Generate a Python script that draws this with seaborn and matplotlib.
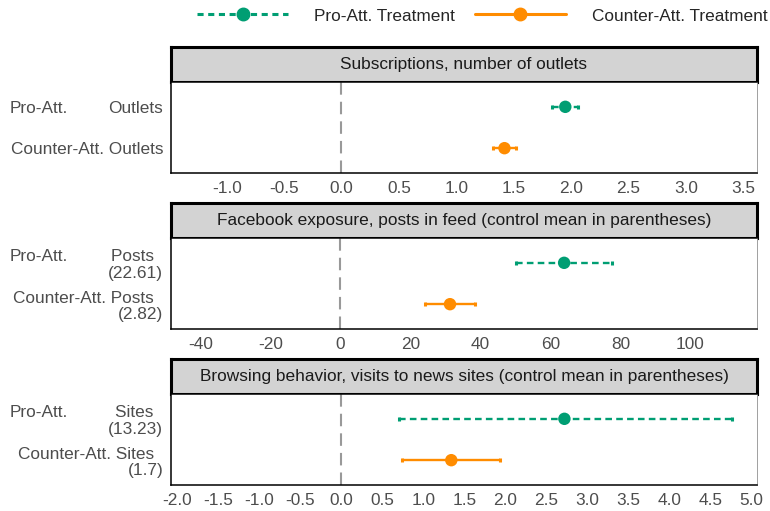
import numpy as np
import pandas as pd
import matplotlib.pyplot as plt
import seaborn as sns
from matplotlib.lines import Line2D
from matplotlib.transforms import blended_transform_factory

# values
panels = [
    "Subscriptions, number of outlets",
    "Facebook exposure, posts in feed (control mean in parentheses)",
    "Browsing behavior, visits to news sites (control mean in parentheses)",
]
treatments = ["Pro-Att. Treatment", "Counter-Att. Treatment"]
pro_est = [1.95, 63.9, 2.72]
pro_lo = [1.83, 50.1, 0.70]
pro_hi = [2.06, 77.6, 4.76]
counter_est = [1.42, 31.3, 1.34]
counter_lo = [1.32, 24.3, 0.74]
counter_hi = [1.52, 38.3, 1.94]
pro_labels = ["Outlets", "Posts  \n(22.61)", "Sites  \n(13.23)"]
counter_labels = ["Counter-Att. Outlets", "Counter-Att. Posts  \n(2.82)", "Counter-Att. Sites  \n(1.7)"]
x_limits = [(-1.485, 3.62), (-48.4, 119.0), (-2.08, 5.07)]
x_ticks = [
    [-1.0, -0.5, 0.0, 0.5, 1.0, 1.5, 2.0, 2.5, 3.0, 3.5],
    [-40, -20, 0, 20, 40, 60, 80, 100],
    [-2.0, -1.5, -1.0, -0.5, 0.0, 0.5, 1.0, 1.5, 2.0, 2.5, 3.0, 3.5, 4.0, 4.5, 5.0],
]
tick_fmt = ["{:.1f}", "{:.0f}", "{:.1f}"]

colors = {"Pro-Att. Treatment": "#009E73", "Counter-Att. Treatment": "#FF8C00"}
dash_pro = (0, (2.8, 1.8))
FS = 12.4
LS = 1.1

rows = []
for i, p in enumerate(panels):
    rows.append(dict(panel=p, treat=treatments[0], ypos=1, est=pro_est[i], lo=pro_lo[i], hi=pro_hi[i]))
    rows.append(dict(panel=p, treat=treatments[1], ypos=2, est=counter_est[i], lo=counter_lo[i], hi=counter_hi[i]))
df = pd.DataFrame(rows)

sns.set_style("white")
plt.rcParams["font.family"] = ["Liberation Sans", "DejaVu Sans"]
plt.rcParams["axes.unicode_minus"] = False

W, H = 770, 511
fig = plt.figure(figsize=(W / 100, H / 100), dpi=100)

x0, x1 = 171, 757
for k, p in enumerate(panels):
    top = 47 + 156 * k
    strip_bot = 82 + 156 * k
    ax_bot = 173 + 156 * k

    # strip
    sax = fig.add_axes([x0 / W, 1 - strip_bot / H, (x1 - x0) / W, (strip_bot - top) / H])
    sax.set_facecolor("#D3D3D3")
    sax.set_xticks([])
    sax.set_yticks([])
    for s in sax.spines.values():
        s.set_visible(True)
        s.set_color("black")
        s.set_linewidth(2.2)
    sax.text(0.5, 0.5, p, ha="center", va="center", fontsize=FS, color="#1A1A1A",
             transform=sax.transAxes)

    # panel
    ax = fig.add_axes([x0 / W, 1 - ax_bot / H, (x1 - x0) / W, (ax_bot - strip_bot) / H])
    sub = df[df["panel"] == p]
    ax.axvline(0, color="#999999", lw=1.5, dashes=(6, 3.4), zorder=1)
    for _, r in sub.iterrows():
        eb = ax.errorbar(r["est"], r["ypos"], xerr=[[r["est"] - r["lo"]], [r["hi"] - r["est"]]],
                         fmt="none", ecolor=colors[r["treat"]], elinewidth=1.7,
                         capsize=1.3, capthick=2.2, zorder=2)
        if r["treat"] == treatments[0]:
            eb[2][0].set_linestyle(dash_pro)
    sns.scatterplot(data=sub, x="est", y="ypos", hue="treat", palette=colors,
                    s=80, linewidth=0, legend=False, ax=ax, zorder=3)

    ax.set_xlim(*x_limits[k])
    ax.set_ylim(2.6, 0.4)
    ax.set_xticks(x_ticks[k])
    ax.set_xticklabels([tick_fmt[k].format(v) for v in x_ticks[k]])
    ax.set_yticks([1, 2])
    ax.set_yticklabels([pro_labels[k], counter_labels[k]])
    for lbl in ax.get_yticklabels():
        lbl.set_linespacing(LS)
    ax.set_xlabel("")
    ax.set_ylabel("")
    ax.tick_params(axis="x", length=3, width=0.8, color="#333333", labelsize=FS,
                   labelcolor="#4D4D4D", pad=2.5)
    ax.tick_params(axis="y", length=3, width=0.9, color="#333333", labelsize=FS,
                   labelcolor="#4D4D4D", pad=2.5)
    for side in ["left", "bottom", "top"]:
        ax.spines[side].set_color("black")
        ax.spines[side].set_linewidth(1.1)
    ax.spines["right"].set_color("#A0A0A0")
    ax.spines["right"].set_linewidth(0.7)

    # left-hand "Pro-Att." part of the first label
    trans = blended_transform_factory(fig.transFigure, ax.transData)
    extra = "Pro-Att." if "\n" not in pro_labels[k] else "Pro-Att.\n "
    ax.text(10 / W, 1, extra, transform=trans, ha="left", va="center_baseline", fontsize=FS,
            color="#4D4D4D", linespacing=LS)

handles = [
    Line2D([], [], color=colors[treatments[0]], lw=2.2, ls=(0, (2.0, 1.5)), marker="o", markersize=9),
    Line2D([], [], color=colors[treatments[1]], lw=2.2, ls="-", marker="o", markersize=9),
]
fig.legend(handles, treatments, loc="center left", bbox_to_anchor=(197 / W, 1 - 16 / H), ncol=2,
           frameon=False, handlelength=5.3, handletextpad=1.5, columnspacing=1.15,
           borderpad=0, borderaxespad=0, fontsize=FS)

fig.savefig("out.png", dpi=100)
